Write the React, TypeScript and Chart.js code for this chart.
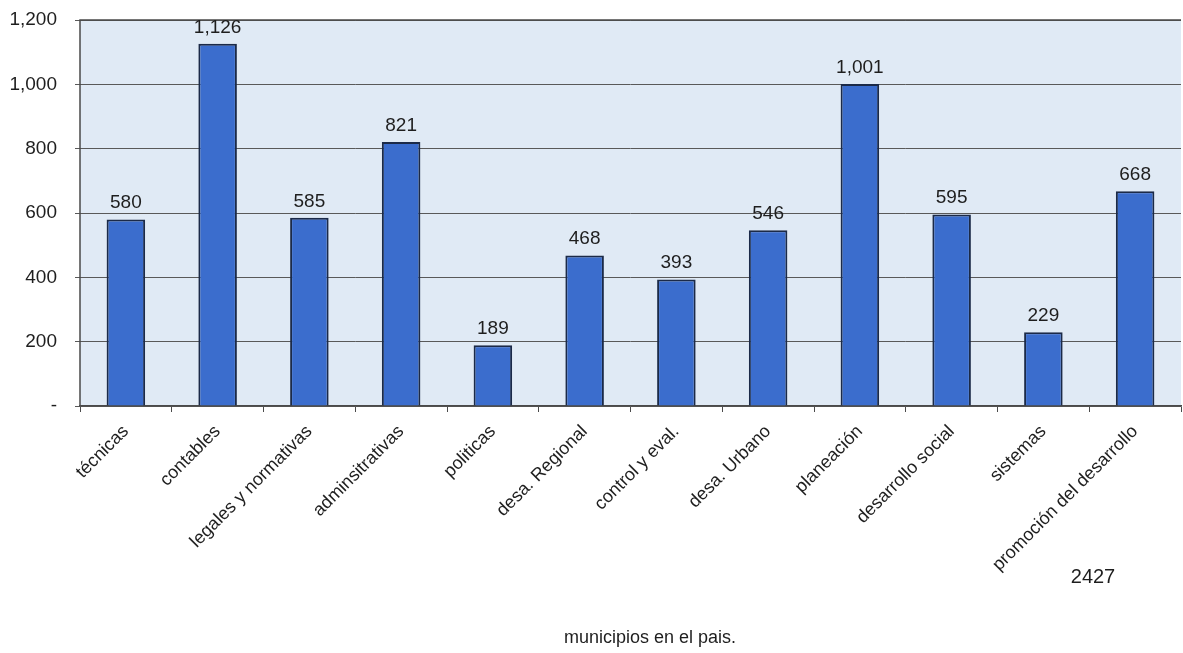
import React, { useEffect, useRef } from "react";
import { Chart, registerables } from "chart.js";

Chart.register(...registerables);

// Capacitación requerida por área
const categories: string[] = [
  "técnicas",
  "contables",
  "legales y normativas",
  "adminsitrativas",
  "politicas",
  "desa. Regional",
  "control y eval.",
  "desa. Urbano",
  "planeación",
  "desarrollo social",
  "sistemas",
  "promoción del desarrollo",
];
const values: number[] = [580, 1126, 585, 821, 189, 468, 393, 546, 1001, 595, 229, 668];
const yTicks: number[] = [0, 200, 400, 600, 800, 1000, 1200];
const totalText = "2427";
const footnoteText = "municipios en el pais.";

const FONT = "'Liberation Sans', Arial, sans-serif";
const fmt = (v: number) => (v === 0 ? "-" : v.toLocaleString("en-US"));

const plotBackground = {
  id: "plotBackground",
  beforeDraw(chart: any) {
    const { ctx, chartArea } = chart;
    ctx.save();
    ctx.fillStyle = "#e0eaf5";
    ctx.fillRect(chartArea.left, chartArea.top, chartArea.right - chartArea.left, chartArea.bottom - chartArea.top);
    ctx.restore();
  },
  afterDatasetsDraw(chart: any) {
    const { ctx, chartArea } = chart;
    ctx.save();
    ctx.strokeStyle = "#4a4a4a";
    ctx.lineWidth = 1.5;
    ctx.beginPath();
    ctx.moveTo(chartArea.left, chartArea.bottom);
    ctx.lineTo(chartArea.left, chartArea.top);
    ctx.lineTo(chartArea.right, chartArea.top);
    ctx.stroke();
    ctx.restore();
  },
};

const valueLabels = {
  id: "valueLabels",
  afterDatasetsDraw(chart: any) {
    const { ctx } = chart;
    const meta = chart.getDatasetMeta(0);
    ctx.save();
    ctx.font = `19px ${FONT}`;
    ctx.fillStyle = "#1e1e1e";
    ctx.textAlign = "center";
    ctx.textBaseline = "bottom";
    meta.data.forEach((bar: any, i: number) => {
      ctx.fillText(fmt(values[i]), bar.x, bar.y - 7);
    });
    ctx.restore();
  },
};

const notes = {
  id: "notes",
  afterDraw(chart: any) {
    const { ctx } = chart;
    ctx.save();
    ctx.fillStyle = "#1e1e1e";
    ctx.textBaseline = "alphabetic";
    ctx.textAlign = "center";
    ctx.font = `20px ${FONT}`;
    ctx.fillText(totalText, 1093, 583);
    ctx.font = `18px ${FONT}`;
    ctx.fillText(footnoteText, 650, 643);
    ctx.restore();
  },
};

export default function App() {
  const canvasRef = useRef<HTMLCanvasElement | null>(null);

  useEffect(() => {
    document.body.style.margin = "0";
    const canvas = canvasRef.current;
    if (!canvas) return;
    const chart = new Chart(canvas, {
      type: "bar",
      data: {
        labels: categories,
        datasets: [
          {
            data: values,
            backgroundColor: "#3b6dcd",
            borderColor: "#1b2a48",
            borderWidth: 2,
            barPercentage: 0.42,
            categoryPercentage: 1,
          },
        ],
      },
      options: {
        animation: false,
        responsive: false,
        maintainAspectRatio: false,
        layout: { padding: { top: 20, right: 2, left: 0, bottom: 0 } },
        plugins: {
          legend: { display: false },
          tooltip: { enabled: false },
          title: { display: false },
        },
        scales: {
          x: {
            offset: true,
            afterFit(scale: any) {
              scale.height = 653 - 406;
            },
            grid: {
              offset: true,
              drawOnChartArea: false,
              drawTicks: true,
              tickLength: 6,
              color: "#4a4a4a",
            },
            border: { color: "#4a4a4a", width: 1.5 },
            ticks: {
              minRotation: 45,
              maxRotation: 45,
              autoSkip: false,
              padding: 9,
              color: "#1e1e1e",
              font: { family: FONT, size: 18 },
            },
          },
          y: {
            min: 0,
            max: 1200,
            afterFit(scale: any) {
              scale.width = 80;
              scale.paddingTop = 0;
              scale.paddingBottom = 0;
            },
            afterBuildTicks(scale: any) {
              scale.ticks = yTicks.map((v) => ({ value: v }));
            },
            grid: {
              color: "#595959",
              lineWidth: 1,
              drawTicks: true,
              tickLength: 5,
            },
            border: { display: false },
            ticks: {
              padding: 18,
              color: "#1e1e1e",
              font: { family: FONT, size: 19 },
              callback: (v: any) => fmt(Number(v)),
            },
          },
        },
      },
      plugins: [plotBackground, valueLabels, notes],
    });
    return () => chart.destroy();
  }, []);

  return (
    <div style={{ position: "absolute", left: 0, top: 0, width: 1183, height: 653, background: "#fff" }}>
      <canvas ref={canvasRef} width={1183} height={653} style={{ display: "block" }} />
    </div>
  );
}
